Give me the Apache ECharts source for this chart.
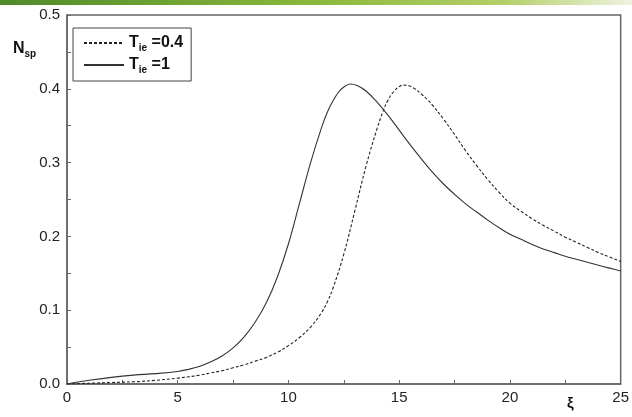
<!DOCTYPE html>
<html>
<head>
<meta charset="utf-8">
<script src="https://cdn.jsdelivr.net/npm/echarts@6/dist/echarts.min.js"></script>
<style>
html,body{margin:0;padding:0;background:#fff;}
#chart{width:632px;height:417px;}
</style>
</head>
<body>
<div id="chart"></div>
<script>
// T_ie = 1 (solid)
var xi1 = [0, 1, 2, 3, 4, 5, 5.5, 6, 6.5, 7, 7.5, 8, 8.5, 9, 9.5, 10, 10.5, 11, 11.5, 11.75, 12, 12.25, 12.5, 12.8, 13.1, 13.5, 14, 14.5, 15, 15.5, 16, 16.5, 17, 17.5, 18, 18.5, 19, 19.5, 20, 20.5, 21, 21.5, 22, 22.5, 23, 23.5, 24, 24.5, 25];
var nsp1 = [0, 0.005, 0.009, 0.012, 0.014, 0.017, 0.02, 0.024, 0.03, 0.038, 0.049, 0.064, 0.084, 0.11, 0.145, 0.19, 0.245, 0.3, 0.348, 0.368, 0.383, 0.395, 0.4025, 0.4065, 0.4045, 0.397, 0.382, 0.364, 0.344, 0.324, 0.305, 0.287, 0.271, 0.257, 0.244, 0.233, 0.222, 0.212, 0.203, 0.196, 0.189, 0.183, 0.178, 0.173, 0.169, 0.165, 0.161, 0.157, 0.153];
// T_ie = 0.4 (dashed)
var xi2 = [0, 1, 2, 3, 4, 5, 6, 6.5, 7, 7.5, 8, 8.5, 9, 9.5, 10, 10.5, 11, 11.5, 11.75, 12, 12.5, 13, 13.5, 14, 14.25, 14.5, 14.75, 15, 15.2, 15.45, 15.7, 16, 16.25, 16.5, 17, 17.5, 18, 18.5, 19, 19.5, 20, 20.5, 21, 21.5, 22, 22.5, 23, 23.5, 24, 24.5, 25];
var nsp2 = [0, 0.001, 0.002, 0.003, 0.005, 0.008, 0.012, 0.015, 0.018, 0.022, 0.026, 0.031, 0.036, 0.043, 0.052, 0.063, 0.077, 0.097, 0.111, 0.129, 0.176, 0.235, 0.295, 0.346, 0.368, 0.385, 0.396, 0.403, 0.405, 0.404, 0.4, 0.393, 0.386, 0.378, 0.359, 0.338, 0.316, 0.296, 0.277, 0.26, 0.245, 0.234, 0.224, 0.215, 0.207, 0.199, 0.192, 0.185, 0.178, 0.172, 0.166];

function pairs(xs, ys){
	var out = [];
	for(var i=0;i<xs.length;i++){ out.push([xs[i], ys[i]]); }
	return out;
}

var myChart = echarts.init(document.getElementById('chart'));
var lbl = {fontFamily:'Liberation Sans, Arial, sans-serif', fontSize:15, color:'#222'};
var option = {
	animation:false,
	backgroundColor:'#fff',
	grid:{left:67, right:3, top:15, bottom:33, show:true, borderColor:'#666', borderWidth:1.5, backgroundColor:'transparent'},
	legend:{
		orient:'vertical', left:73, top:28,
		padding:[7, 8, 6, 10],
		itemGap:4, itemWidth:40, itemHeight:14,
		borderColor:'#444', borderWidth:1,
		itemStyle:{opacity:0},
		data:['0.4','1'],
		formatter:function(n){ return '{b|T}{s|ie}{b| =' + n + '}'; },
		textStyle:{
			rich:{
				b:{fontFamily:'Liberation Sans, Arial, sans-serif', fontSize:16, fontWeight:'bold', color:'#111'},
				s:{fontFamily:'Liberation Sans, Arial, sans-serif', fontSize:10, fontWeight:'bold', color:'#111', padding:[10,0,0,0]}
			}
		}
	},
	xAxis:{
		type:'value', min:0, max:25, interval:5,
		axisLine:{lineStyle:{color:'#666', width:1.5}},
		axisTick:{inside:true, length:4, lineStyle:{color:'#666'}},
		minorTick:{show:true, splitNumber:2, length:4, lineStyle:{color:'#666'}},
		splitLine:{show:false},
		axisLabel:Object.assign({margin:6}, lbl)
	},
	yAxis:{
		type:'value', min:0, max:0.5, interval:0.1,
		axisLine:{lineStyle:{color:'#666', width:1.5}},
		axisTick:{inside:true, length:4, lineStyle:{color:'#666'}},
		minorTick:{show:true, splitNumber:2, length:4, lineStyle:{color:'#666'}},
		splitLine:{show:false},
		axisLabel:Object.assign({margin:7, formatter:function(v){ return v.toFixed(1); }}, lbl)
	},
	graphic:[
		{type:'rect', left:0, top:0, shape:{width:632, height:5}, silent:true,
			style:{fill:new echarts.graphic.LinearGradient(0,0,1,0,[
				{offset:0, color:'#4f8a2a'},{offset:0.5, color:'#8bb83c'},{offset:0.8, color:'#b4cf6a'},{offset:1, color:'#eef3e0'}])}},
		{type:'text', left:13, top:41, style:{
			text:'{b|N}{s|sp}',
			rich:{
				b:{fontFamily:'Liberation Sans, Arial, sans-serif', fontSize:16, fontWeight:'bold', fill:'#111'},
				s:{fontFamily:'Liberation Sans, Arial, sans-serif', fontSize:10, fontWeight:'bold', fill:'#111', padding:[10,0,0,0]}
			}}},
		{type:'text', left:567, top:396, style:{text:'ξ', font:'bold 15px Liberation Sans, Arial, sans-serif', fill:'#111'}}
	],
	series:[
		{
			name:'0.4', type:'line', smooth:0.4, symbol:'none', showSymbol:false,
			lineStyle:{color:'#222', width:1.1, type:[3,2]},
			itemStyle:{color:'#222'},
			data:pairs(xi2, nsp2)
		},
		{
			name:'1', type:'line', smooth:0.4, symbol:'none', showSymbol:false,
			lineStyle:{color:'#333', width:1.1},
			itemStyle:{color:'#333'},
			data:pairs(xi1, nsp1)
		}
	]
};
myChart.setOption(option);
</script>
</body>
</html>
